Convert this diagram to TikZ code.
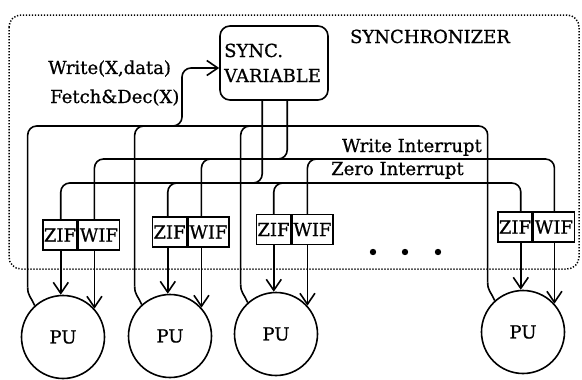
\documentclass[tikz,border=0pt]{standalone}
\usepackage{fontspec}
\setmainfont{DejaVu Serif}
\usetikzlibrary{arrows.meta,calc}
\begin{document}
\begin{tikzpicture}[x=1pt,y=-1pt,
  line/.style={line width=1.6pt},
  wire/.style={line, rounded corners=9pt},
  sig/.style={line, -{Straight Barb[length=11pt,width=15pt]}},
  txt/.style={font=\fontsize{18}{20}\selectfont\addfontfeature{FakeBold=0.8}, inner sep=0pt},
  flag/.style={draw, line width=1.4pt, minimum height=30pt, inner xsep=0pt, inner ysep=0pt, txt},
  pu/.style={circle, draw, line, minimum size=83pt, inner sep=0pt, txt},
  syncbox/.style={draw, line, rounded corners=10pt, minimum width=108pt, minimum height=74pt, inner sep=0pt}
]
\useasboundingbox (0,0) rectangle (582,380);

% synchronizer boundary
\draw[line width=1.5pt, dash pattern=on 1.3pt off 1.7pt, rounded corners=12pt] (9,15) rectangle (579,269);
\node[txt, anchor=base] (synchr) at (430,43) {SYNCHRONIZER};

% synchronization variable
\node[syncbox] (sync) at (274,63) {};
\node[txt, anchor=base west] (syncA) at (224,57) {SYNC.};
\node[txt, anchor=base west] (syncB) at (224,82) {VARIABLE};

\node[txt, anchor=base west] (opw) at (48,74) {Write(X,data)};
\node[txt, anchor=base west] (opf) at (50,103) {Fetch\&Dec(X)};
\node[txt, anchor=base east] (wint) at (482,152) {Write Interrupt};
\node[txt, anchor=base west] (zint) at (331,175) {Zero Interrupt};

% processing units
\node[pu] (pu1) at (63,337) {PU};
\node[pu] (pu2) at (170,336) {PU};
\node[pu] (pu3) at (276,334) {PU};
\node[pu] (pu4) at (523,332) {PU};

% interrupt flags
\node[flag, minimum width=34pt] (zif1) at (60,235) {ZIF};
\node[flag, minimum width=41pt, anchor=west] (wif1) at (zif1.east) {WIF};
\node[flag, minimum width=34pt] (zif2) at (169.5,232) {ZIF};
\node[flag, minimum width=41pt, anchor=west] (wif2) at (zif2.east) {WIF};
\node[flag, minimum width=34pt] (zif3) at (273.5,229.5) {ZIF};
\node[flag, minimum width=41pt, anchor=west] (wif3) at (zif3.east) {WIF};
\node[flag, minimum width=34pt] (zif4) at (515,227) {ZIF};
\node[flag, minimum width=41pt, anchor=west] (wif4) at (zif4.east) {WIF};

% bus levels
\coordinate (reqbus) at (0,126);
\coordinate (wbus) at (0,159);
\coordinate (zbus) at (0,183);

% request lines from the PUs
\foreach \i in {1,2,3,4} {
  \coordinate (q\i) at ($(pu\i.132)+(-7,-18)$);
  \draw[line] (pu\i.132) .. controls +(-4,-9) and +(0,8) .. (q\i);
}
\draw[wire] (q1) -- (q1 |- reqbus) -- (q4 |- reqbus) -- (q4);
\draw[wire] (q2) -- (q2 |- reqbus) -- ++(15,0);
\draw[wire] (q3) -- (q3 |- reqbus) -- ++(15,0);
\coordinate (fork) at (182,126);
\coordinate (arr) at ($(sync.west)+(0,5)$);
\draw[wire, sig] ($(fork)+(-14,0)$) -- (fork) -- (fork |- arr) -- (arr);

% interrupt lines from the variable
\coordinate (zdrop) at ($(sync.south west)+(43,0)$);
\coordinate (wdrop) at ($(sync.south west)+(68,0)$);
\draw[wire] (zdrop) -- (zdrop |- zbus) -- ++(-15,0);
\draw[wire] (wdrop) -- (wdrop |- wbus) -- ++(-15,0);

% zero interrupt bus
\draw[wire] (zif1.north -| pu1.93) -- (pu1.93 |- zbus) -- (pu4.93 |- zbus) -- (zif4.north -| pu4.93);
\draw[wire] (zif2.north -| pu2.93) -- (pu2.93 |- zbus) -- ++(15,0);
\draw[wire] (zif3.north -| pu3.93) -- (pu3.93 |- zbus) -- ++(15,0);

% write interrupt bus
\draw[wire] (wif1.north -| pu1.42) -- (pu1.42 |- wbus) -- (pu4.42 |- wbus) -- (wif4.north -| pu4.42);
\draw[wire] (wif2.north -| pu2.42) -- (pu2.42 |- wbus) -- ++(15,0);
\draw[wire] (wif3.north -| pu3.42) -- (pu3.42 |- wbus) -- ++(15,0);

% flag outputs to the PUs
\foreach \i in {1,2,3,4} {
  \draw[sig] (zif\i.south -| pu\i.93) -- (pu\i.93);
  \draw[sig] (wif\i.south -| pu\i.42) -- (pu\i.42);
}

% further units
\fill (373,252) circle (3.2pt) (405,252) circle (3.2pt) (438,252) circle (3.2pt);
\end{tikzpicture}
\end{document}
